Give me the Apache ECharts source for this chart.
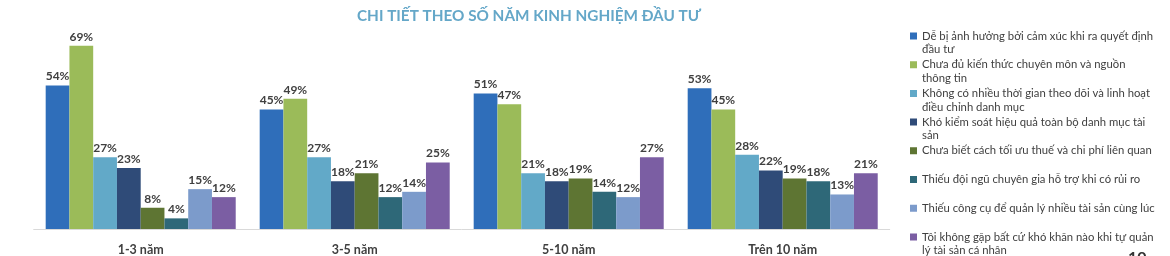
<!DOCTYPE html>
<html>
<head>
<meta charset="utf-8">
<script src="https://cdn.jsdelivr.net/npm/echarts@6/dist/echarts.min.js"></script>
<style>html,body{margin:0;padding:0;background:#fff}#c{width:1170px;height:256px}</style>
</head>
<body>
<div id="c"></div>
<script>
const categories = ['1-3 năm', '3-5 năm', '5-10 năm', 'Trên 10 năm'];
const seriesNames = [
  'Dễ bị ảnh hưởng bởi cảm xúc khi ra quyết định đầu tư',
  'Chưa đủ kiến thức chuyên môn và nguồn thông tin',
  'Không có nhiều thời gian theo dõi và linh hoạt điều chỉnh danh mục',
  'Khó kiểm soát hiệu quả toàn bộ danh mục tài sản',
  'Chưa biết cách tối ưu thuế và chi phí liên quan',
  'Thiếu đội ngũ chuyên gia hỗ trợ khi có rủi ro',
  'Thiếu công cụ để quản lý nhiều tài sản cùng lúc',
  'Tôi không gặp bất cứ khó khăn nào khi tự quản lý tài sản cá nhân'
];
const legendLabels = [
  'Dễ bị ảnh hưởng bởi cảm xúc khi ra quyết định\nđầu tư',
  'Chưa đủ kiến thức chuyên môn và nguồn\nthông tin',
  'Không có nhiều thời gian theo dõi và linh hoạt\nđiều chỉnh danh mục',
  'Khó kiểm soát hiệu quả toàn bộ danh mục tài\nsản',
  'Chưa biết cách tối ưu thuế và chi phí liên quan\n ',
  'Thiếu đội ngũ chuyên gia hỗ trợ khi có rủi ro\n ',
  'Thiếu công cụ để quản lý nhiều tài sản cùng lúc\n ',
  'Tôi không gặp bất cứ khó khăn nào khi tự quản\nlý tài sản cá nhân'
];
const emotional   = [54, 45, 51, 53];
const knowledge   = [69, 49, 47, 45];
const timeLack    = [27, 27, 21, 28];
const control     = [23, 18, 18, 22];
const taxCost     = [8, 21, 19, 19];
const expertTeam  = [4, 12, 14, 18];
const tools       = [15, 14, 12, 13];
const noDifficult = [12, 25, 27, 21];
const seriesValues = [emotional, knowledge, timeLack, control, taxCost, expertTeam, tools, noDifficult];
const colors = ['#2F6EBA', '#9BBB59', '#62A9C8', '#2F4B78', '#5E7533', '#2E6878', '#7C9BCB', '#7B5EA3'];

const FONT = 'Lato, "Noto Sans", sans-serif';
const iconPath = 'path://M0,0L0.01,0M0,3.25H7V10.25H0ZM7,27L6.99,27';

const chart = echarts.init(document.getElementById('c'), null, {renderer: 'canvas'});
chart.setOption({
  animation: false,
  color: colors,
  title: {
    text: 'CHI TIẾT THEO SỐ NĂM KINH NGHIỆM ĐẦU TƯ',
    left: 524, top: 4, textAlign: 'center',
    textStyle: {fontFamily: FONT, fontSize: 15.3, fontWeight: 'bold', color: '#64A7C8'}
  },
  legend: {
    orient: 'vertical', left: 910, top: 29.25, height: 260, padding: 0,
    itemWidth: 7, itemHeight: 27, itemGap: 1.7,
    selectedMode: false,
    data: seriesNames.map(n => ({name: n, icon: iconPath})),
    formatter: name => legendLabels[seriesNames.indexOf(name)],
    textStyle: {fontFamily: FONT, fontSize: 11.3, color: '#404040', lineHeight: 13.5}
  },
  grid: {left: 33.7, right: 280.3, top: 16.5, bottom: 26.7},
  xAxis: {
    type: 'category', data: categories,
    axisLine: {lineStyle: {color: '#D9D9D9', width: 1}},
    axisTick: {show: false},
    axisLabel: {fontFamily: FONT, fontSize: 12.5, fontWeight: 'bold', color: '#404040', margin: 14}
  },
  yAxis: {type: 'value', min: 0, max: 80, show: false, splitLine: {show: false}},
  series: seriesNames.map((n, i) => ({
    name: n, type: 'bar', data: seriesValues[i],
    barGap: '0%', barCategoryGap: '11.2%',
    itemStyle: {color: colors[i]},
    label: {show: true, position: 'top', distance: 3, formatter: '{c}%',
      fontFamily: FONT, fontSize: 12, fontWeight: 'bold', color: '#404040'}
  })),
  graphic: [{
    type: 'text', left: 1128, top: 250,
    style: {text: '10', fontFamily: FONT, fontSize: 16, fontWeight: 'bold', fill: '#333'}
  }]
});
</script>
</body>
</html>
